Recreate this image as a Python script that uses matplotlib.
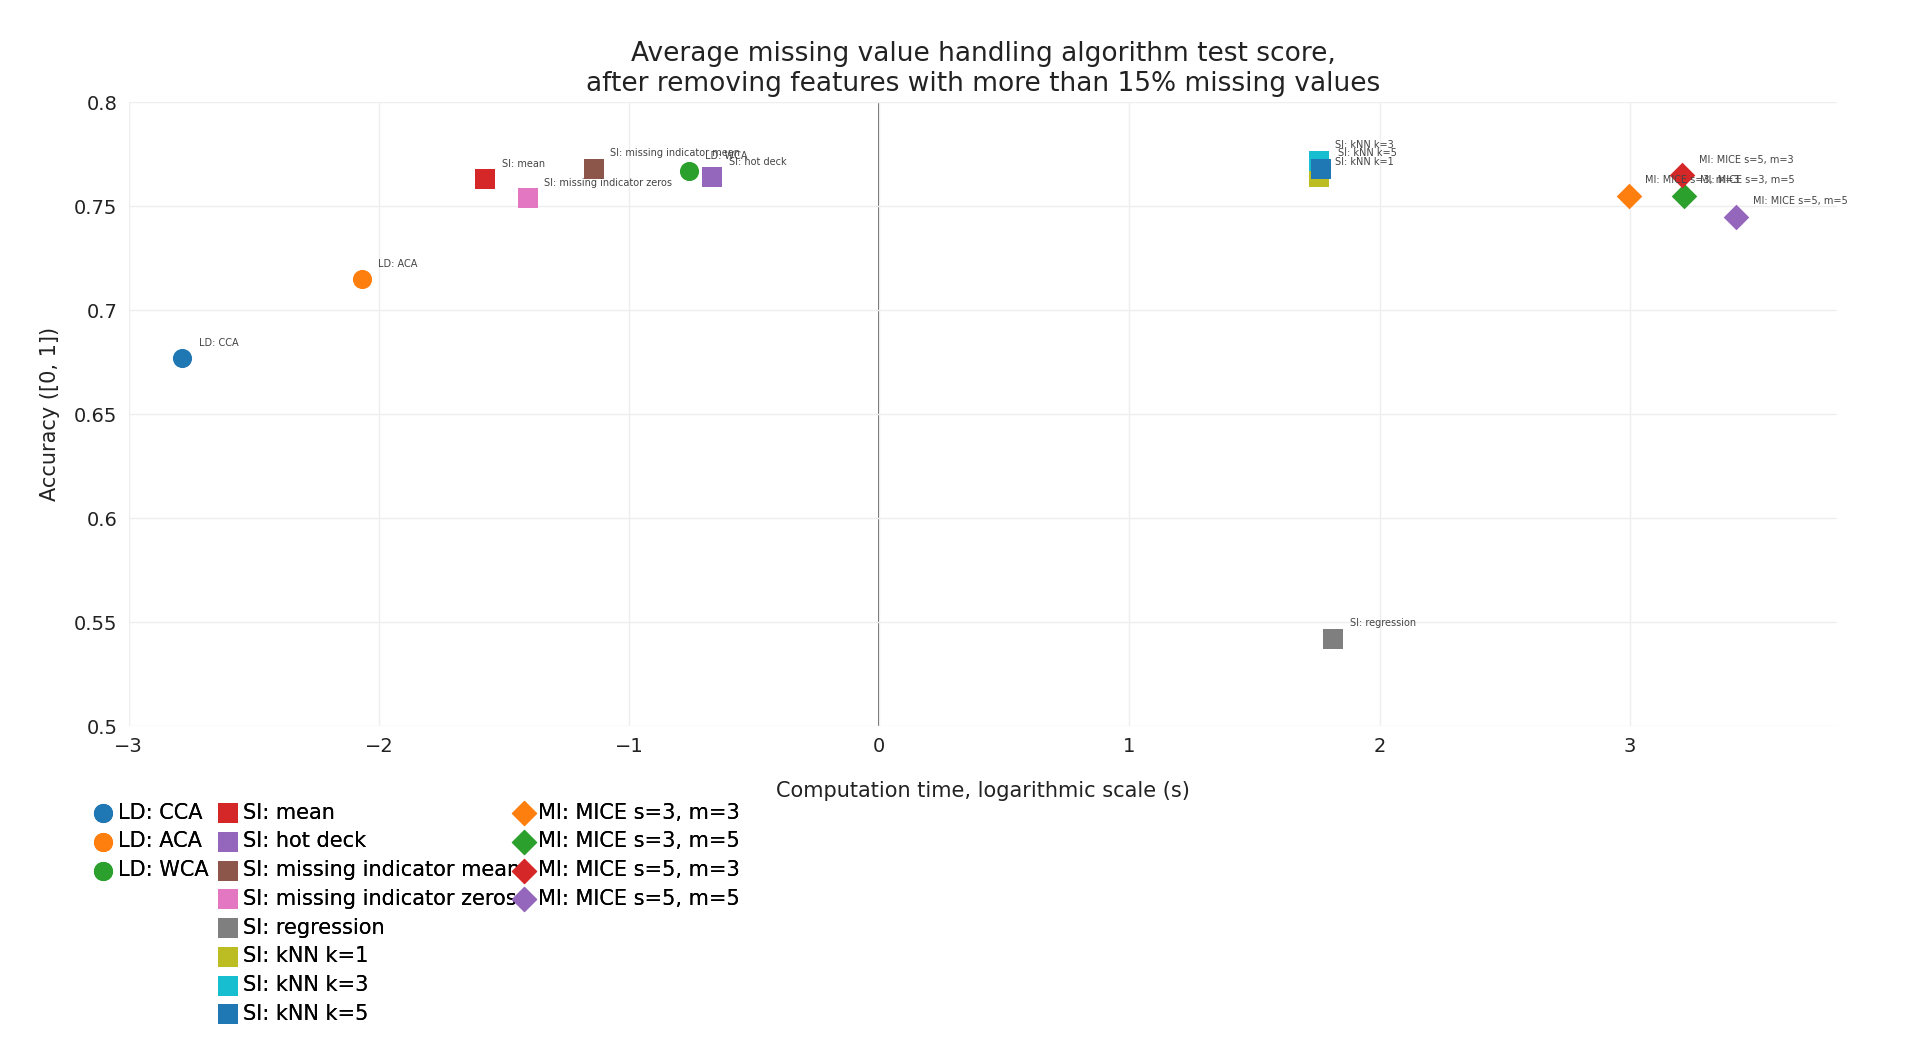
import matplotlib.pyplot as plt

names = ["LD: CCA", "LD: ACA", "LD: WCA",
         "SI: mean", "SI: hot deck", "SI: missing indicator mean", "SI: missing indicator zeros",
         "SI: regression", "SI: kNN k=1", "SI: kNN k=3", "SI: kNN k=5",
         "MI: MICE s=3, m=3", "MI: MICE s=3, m=5", "MI: MICE s=5, m=3", "MI: MICE s=5, m=5"]
log_time = [-2.785, -2.068, -0.761,
            -1.576, -0.668, -1.141, -1.405,
            1.815, 1.756, 1.756, 1.766,
            2.995, 3.215, 3.210, 3.424]
accuracy = [0.677, 0.715, 0.767,
            0.763, 0.764, 0.768, 0.754,
            0.542, 0.764, 0.772, 0.768,
            0.755, 0.755, 0.765, 0.745]
groups = [0, 0, 0, 1, 1, 1, 1, 1, 1, 1, 1, 2, 2, 2, 2]
colors = ["#1f77b4", "#ff7f0e", "#2ca02c",
          "#d62728", "#9467bd", "#8c564b", "#e377c2", "#7f7f7f", "#bcbd22", "#17becf", "#1f77b4",
          "#ff7f0e", "#2ca02c", "#d62728", "#9467bd"]
markers = ["o", "s", "D"]
sizes = [190, 190, 170]

fig = plt.figure(figsize=(19.2, 10.45), dpi=100)
ax = fig.add_axes([0.067, 0.305, 0.89, 0.597])

handles = [[], [], []]
for n, x, y, g, c in zip(names, log_time, accuracy, groups, colors):
    h = ax.scatter(x, y, s=sizes[g], marker=markers[g], color=c, label=n, zorder=3, linewidths=0)
    handles[g].append(h)
    ax.annotate(n, (x, y), xytext=(12, 9), textcoords="offset points",
                fontsize=7, color="#444444", zorder=4)

ax.set_xlim(-3.0, 3.83)
ax.set_ylim(0.5, 0.8)
ax.set_xticks([-3, -2, -1, 0, 1, 2, 3])
ax.set_xticklabels(["\u22123", "\u22122", "\u22121", "0", "1", "2", "3"])
ax.set_yticks([0.5, 0.55, 0.6, 0.65, 0.7, 0.75, 0.8])
ax.set_yticklabels(["0.5", "0.55", "0.6", "0.65", "0.7", "0.75", "0.8"])
ax.grid(True, color="#eeeeee", linewidth=1, zorder=0)
ax.axvline(0, color="#444444", linewidth=1.2, zorder=1)
for s in ax.spines.values():
    s.set_visible(False)
ax.tick_params(length=0, labelsize=14, pad=8, colors="#222222")
ax.set_xlabel("Computation time, logarithmic scale (s)", fontsize=15, labelpad=18, color="#222222")
ax.set_ylabel("Accuracy ([0, 1])", fontsize=15, labelpad=10, color="#222222")
ax.set_title("Average missing value handling algorithm test score,\n"
             "after removing features with more than 15% missing values",
             fontsize=19, color="#222222", pad=8)

xs = [0.043, 0.108, 0.262]
for g in range(3):
    leg = fig.legend(handles=handles[g], loc="upper left", bbox_to_anchor=(xs[g], 0.24),
                     frameon=False, fontsize=15, handletextpad=0.1, labelspacing=0.42,
                     borderaxespad=0, handlelength=1.2)
    fig.add_artist(leg)

fig.savefig("out.png")
